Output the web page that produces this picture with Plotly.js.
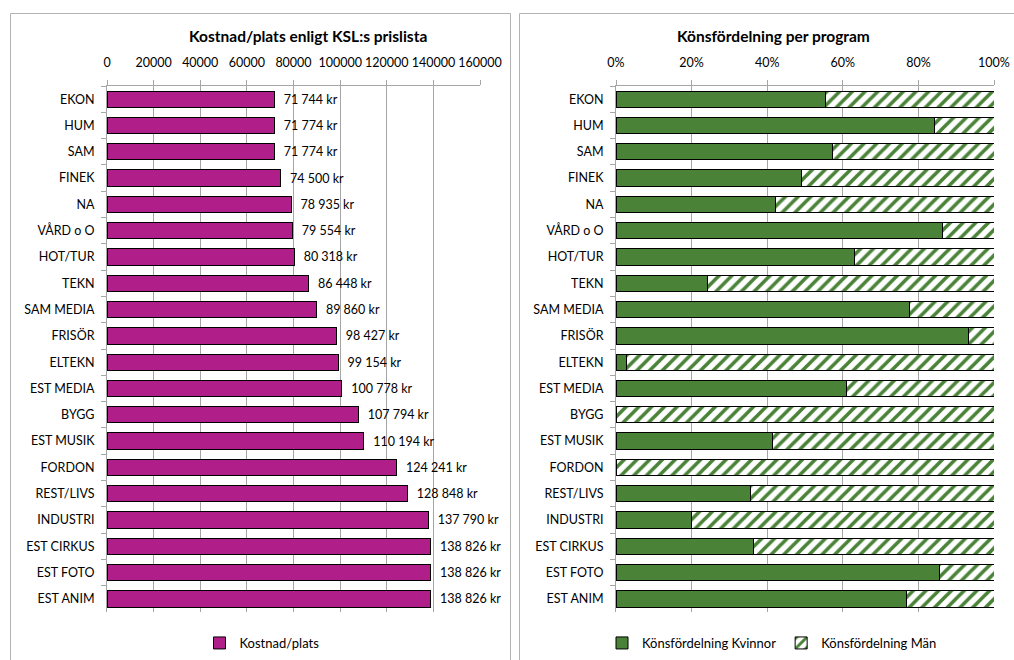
<!DOCTYPE html>
<html>
<head>
<meta charset="utf-8">
<script src="https://cdn.plot.ly/plotly-3.0.1.min.js"></script>
<style>html,body{margin:0;padding:0;background:#fff;}#chart{width:1014px;height:660px;}</style>
</head>
<body>
<div id="chart"></div>
<script>
const categories = ["EKON","HUM","SAM","FINEK","NA","VÅRD o O","HOT/TUR","TEKN","SAM MEDIA","FRISÖR","ELTEKN","EST MEDIA","BYGG","EST MUSIK","FORDON","REST/LIVS","INDUSTRI","EST CIRKUS","EST FOTO","EST ANIM"];
const kostnad = [71744,71774,71774,74500,78935,79554,80318,86448,89860,98427,99154,100778,107794,110194,124241,128848,137790,138826,138826,138826];
const kvinnor = [55.3,84.2,57.2,49.0,42.1,86.4,63.2,24.3,77.7,93.2,2.8,61.0,0,41.4,0,35.7,19.9,36.5,85.6,76.8];
const man = kvinnor.map(v => 100 - v);
const leftTicks = [0,20000,40000,60000,80000,100000,120000,140000,160000];
const rightTicks = [0,20,40,60,80,100];
const rightTickLabels = ["0%","20%","40%","60%","80%","100%"];

const W = 1014, H = 660;
const px = v => v / W;
const py = v => 1 - v / H;
const fmt = v => "\u00a0\u00a0" + String(v).replace(/\B(?=(\d{3})+(?!\d))/g, " ") + " kr";

const FONT = "Lato, 'Open Sans', sans-serif";
const GRID = "#a6a6a6";

const traces = [
  {
    type: "bar", orientation: "h", name: "Kostnad/plats",
    y: categories, x: kostnad, xaxis: "x", yaxis: "y",
    marker: {color: "#B01E8A", line: {color: "#000", width: 1}},
    text: kostnad.map(fmt), textposition: "outside", cliponaxis: false,
    textfont: {family: FONT, size: 12.5, color: "#000"},
    legend: "legend", hoverinfo: "x+y"
  },
  {
    type: "bar", orientation: "h", name: "Könsfördelning Kvinnor",
    y: categories, x: kvinnor, xaxis: "x2", yaxis: "y2",
    marker: {color: "#4A8338", line: {color: "#000", width: 1}},
    legend: "legend2"
  },
  {
    type: "bar", orientation: "h", name: "Könsfördelning Män",
    y: categories, x: man, xaxis: "x2", yaxis: "y2",
    marker: {color: "#ffffff", line: {color: "#000", width: 1},
      pattern: {shape: "/", fgcolor: "#4A8338", bgcolor: "#ffffff", size: 9, solidity: 0.4, fillmode: "replace"}},
    legend: "legend2"
  }
];

const yDom = [py(612), py(86)];
const xCommon = {
  side: "top", showgrid: true, gridcolor: GRID, gridwidth: 1,
  showline: true, linecolor: GRID, linewidth: 1,
  ticks: "outside", ticklen: 5, tickcolor: GRID, ticklabelstandoff: 8,
  tickfont: {family: FONT, size: 12.5, color: "#000"}, zeroline: false, fixedrange: true
};
const yCommon = {
  type: "category", autorange: "reversed", showgrid: false,
  showline: true, linecolor: GRID, linewidth: 1,
  ticks: "outside", ticklen: 5, tickcolor: GRID, tickson: "boundaries", ticklabelstandoff: 9,
  tickfont: {family: FONT, size: 12.5, color: "#000"}, domain: yDom, fixedrange: true
};
const xBottom = {
  side: "bottom", showgrid: false, showline: false, showticklabels: false,
  ticks: "outside", ticklen: 4, tickcolor: GRID, zeroline: false, fixedrange: true
};

const layout = {
  width: W, height: H,
  margin: {l: 0, r: 0, t: 0, b: 0},
  paper_bgcolor: "#fff", plot_bgcolor: "rgba(0,0,0,0)",
  font: {family: FONT, size: 12, color: "#000"},
  barmode: "stack", bargap: 0.38,
  showlegend: true,
  xaxis: Object.assign({}, xCommon, {domain: [px(107), px(480)], range: [0,160000], tickvals: leftTicks, ticktext: leftTicks.map(String), anchor: "y"}),
  yaxis: Object.assign({}, yCommon, {anchor: "x"}),
  xaxis3: Object.assign({}, xBottom, {overlaying: "x", anchor: "y", range: [0,160000], tickvals: leftTicks}),
  xaxis2: Object.assign({}, xCommon, {domain: [px(616), px(994)], range: [0,100], tickvals: rightTicks, ticktext: rightTickLabels, anchor: "y2"}),
  yaxis2: Object.assign({}, yCommon, {anchor: "x2"}),
  xaxis4: Object.assign({}, xBottom, {overlaying: "x2", anchor: "y2", range: [0,100], tickvals: rightTicks}),
  legend: {orientation: "h", x: px(262), y: py(643), xanchor: "center", yanchor: "middle", traceorder: "normal",
    font: {family: FONT, size: 13, color: "#000"}, bgcolor: "rgba(0,0,0,0)", itemclick: false},
  legend2: {orientation: "h", x: px(772), y: py(643), xanchor: "center", yanchor: "middle", traceorder: "normal",
    font: {family: FONT, size: 13, color: "#000"}, bgcolor: "rgba(0,0,0,0)", itemclick: false},
  annotations: [
    {text: "<b>Kostnad/plats enligt KSL:s prislista</b>", xref: "paper", yref: "paper", x: px(308), y: py(36),
      xanchor: "center", yanchor: "middle", showarrow: false, font: {family: FONT, size: 15.5, color: "#000"}},
    {text: "<b>Könsfördelning per program</b>", xref: "paper", yref: "paper", x: px(773), y: py(36),
      xanchor: "center", yanchor: "middle", showarrow: false, font: {family: FONT, size: 15.5, color: "#000"}}
  ],
  shapes: [
    {type: "rect", xref: "paper", yref: "paper", x0: px(10.5), x1: px(510.5), y0: py(700), y1: py(13.5),
      line: {color: "#b3b3b3", width: 1}, fillcolor: "rgba(0,0,0,0)", layer: "below"},
    {type: "rect", xref: "paper", yref: "paper", x0: px(519.5), x1: px(1030), y0: py(700), y1: py(13.5),
      line: {color: "#b3b3b3", width: 1}, fillcolor: "rgba(0,0,0,0)", layer: "below"}
  ]
};

Plotly.newPlot("chart", traces, layout, {displayModeBar: false, staticPlot: true});
</script>
</body>
</html>
